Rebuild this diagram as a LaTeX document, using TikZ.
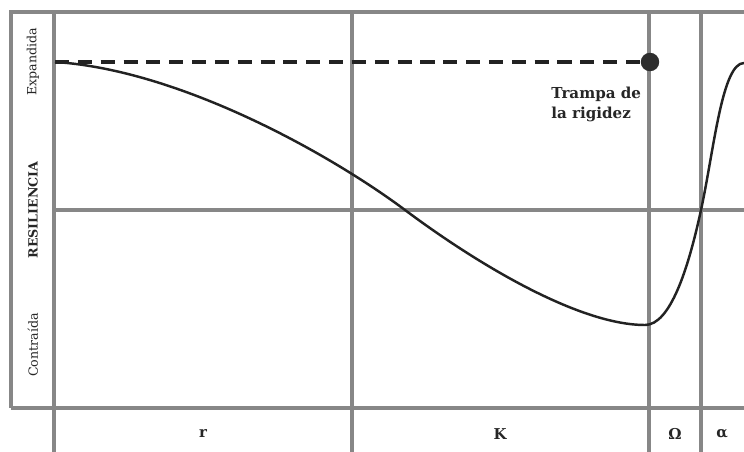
\documentclass[tikz,border=0pt]{standalone}
\usepackage{fontspec}
\setmainfont{DejaVu Serif}
\usetikzlibrary{positioning}

\definecolor{gridgray}{HTML}{878787}
\definecolor{curvedark}{HTML}{222222}

\begin{document}
\begin{tikzpicture}[
    x=0.02cm, y=-0.02cm,
    gridline/.style={draw=gridgray, line width=2pt},
    curveline/.style={draw=curvedark, line width=1.4pt},
    axislabel/.style={rotate=90, font=\fontsize{7.2}{8}\selectfont, text=black!85},
    phaselabel/.style={font=\bfseries\fontsize{8.5}{10}\selectfont, text=black!85},
    every node/.style={inner sep=0pt}
  ]
    \useasboundingbox (0,0) rectangle (744,452);

    % grid
    \draw[gridline] (11,408) -- (11,12) -- (744,12);
    \draw[gridline] (11,408) -- (744,408);
    \draw[gridline] (54,210) -- (744,210);
    \foreach \gx in {54, 352, 649, 701}
      \draw[gridline] (\gx,12) -- (\gx,452);

    % left labels
    \node[axislabel] (expand) at (33,62) {Expandida};
    \node[axislabel, font=\bfseries\fontsize{7.2}{8}\selectfont] (resil) at (33,210) {RESILIENCIA};
    \node[axislabel] (contra) at (33,345) {Contraída};

    % bottom labels
    \node[phaselabel] (rphase) at (203,434) {r};
    \node[phaselabel] (kphase) at (500,434) {K};
    \node[phaselabel] (omphase) at (675,434) {Ω};
    \node[phaselabel] (alphase) at (722,434) {α};

    % curve
    \draw[curveline] (55,62) .. controls (180,70) and (330,154) .. (405,210)
      .. controls (480,266) and (580,325) .. (645,325)
      .. controls (670,325) and (688,270) .. (701,210)
      .. controls (714,150) and (722,63) .. (744,63);

    % trap
    \coordinate (dstart) at (55,62);
    \node[circle, fill=curvedark!95, minimum size=10.5pt] (trap) at (650,62) {};
    \draw[curvedark, line width=2.3pt, dash pattern=on 8pt off 5pt] (dstart) -- (trap);
    \node[phaselabel, align=left, anchor=north west, font=\bfseries\fontsize{8.6}{11}\selectfont]
      (traptext) at (551,87) {Trampa de\\la rigidez};
  \end{tikzpicture}
\end{document}
